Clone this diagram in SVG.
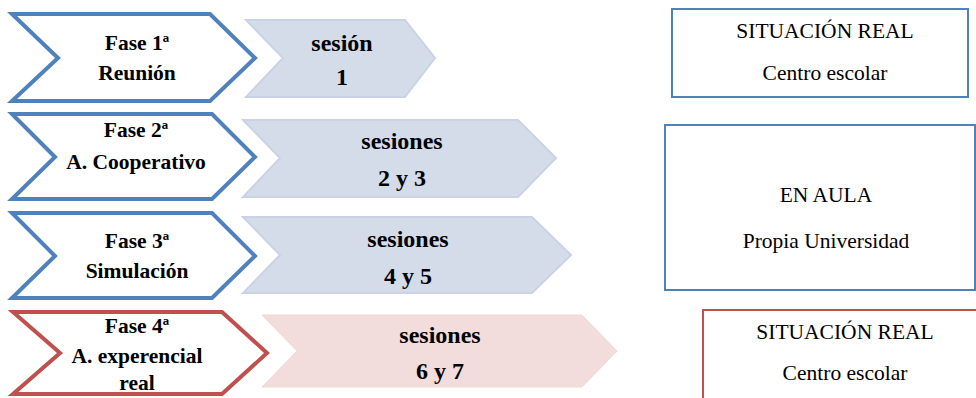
<svg xmlns="http://www.w3.org/2000/svg" width="976" height="398" viewBox="0 0 976 398">
<style>
.chev{fill:#fff;stroke-width:4;stroke-linejoin:miter}
.blue{stroke:#4F81BD}
.red{stroke:#C0504D}
.sesb{fill:#D4DCEA;stroke:#CAD3E6;stroke-width:2}
.sesr{fill:#F2DDDC;stroke:#F0D8D7;stroke-width:1}
.box{fill:#fff;stroke-width:2}
.ph{font-family:"Liberation Serif","Times New Roman",serif;font-weight:bold;font-size:21.5px;fill:#000;text-anchor:middle}
.ss{font-family:"Liberation Serif","Times New Roman",serif;font-weight:bold;font-size:24px;fill:#000;text-anchor:middle}
.rt{font-family:"Liberation Serif","Times New Roman",serif;font-size:21.5px;fill:#000;text-anchor:middle}
</style>
<g id="fase1">
<polygon class="chev blue" points="12,14 210,14 255,58 210,101 12,101 58,58"/>
<text class="ph" x="137" y="50">Fase 1ª</text>
<text class="ph" x="137" y="80">Reunión</text>
</g>
<g id="sesion1">
<polygon class="sesb" points="246,20 405,20 435,58 405,97 246,97 283,58"/>
<text class="ss" x="342" y="51">sesión</text>
<text class="ss" x="342" y="85">1</text>
</g>
<g id="fase2">
<polygon class="chev blue" points="12,114 212,114 255,157 212,199 12,199 55,157"/>
<text class="ph" x="136" y="137">Fase 2ª</text>
<text class="ph" x="136" y="169">A. Cooperativo</text>
</g>
<g id="sesion2">
<polygon class="sesb" points="243,120 518,120 556,158 518,197 243,197 280,158"/>
<text class="ss" x="402" y="149">sesiones</text>
<text class="ss" x="402" y="186">2 y 3</text>
</g>
<g id="fase3">
<polygon class="chev blue" points="12,213 212,213 255,256 212,298 12,298 55,256"/>
<text class="ph" x="137" y="248">Fase 3ª</text>
<text class="ph" x="137" y="278">Simulación</text>
</g>
<g id="sesion3">
<polygon class="sesb" points="243,217 532,217 571,255 532,293 243,293 280,255"/>
<text class="ss" x="408" y="247">sesiones</text>
<text class="ss" x="408" y="284">4 y 5</text>
</g>
<g id="fase4">
<polygon class="chev red" points="13,312 222,312 267,353 222,394 13,394 60,353"/>
<text class="ph" x="137" y="333">Fase 4ª</text>
<text class="ph" x="137" y="363">A. experencial</text>
<text class="ph" x="137" y="390">real</text>
</g>
<g id="sesion4">
<polygon class="sesr" points="262,315 582,315 617,351 582,387 262,387 297,351"/>
<text class="ss" x="440" y="343">sesiones</text>
<text class="ss" x="440" y="379">6 y 7</text>
</g>
<g id="real1">
<rect class="box" x="672" y="9" width="296" height="88" stroke="#4F81BD"/>
<text class="rt" x="825" y="38">SITUACIÓN REAL</text>
<text class="rt" x="825" y="80">Centro escolar</text>
</g>
<g id="aula">
<rect class="box" x="665" y="125" width="310" height="165" stroke="#4F81BD"/>
<text class="rt" x="826" y="202">EN AULA</text>
<text class="rt" x="826" y="248">Propia Universidad</text>
</g>
<g id="real2">
<rect class="box" x="703" y="310" width="290" height="120" stroke="#C0504D"/>
<text class="rt" x="845" y="339">SITUACIÓN REAL</text>
<text class="rt" x="845" y="380">Centro escolar</text>
</g>
<g id="connectors"/>
</svg>
